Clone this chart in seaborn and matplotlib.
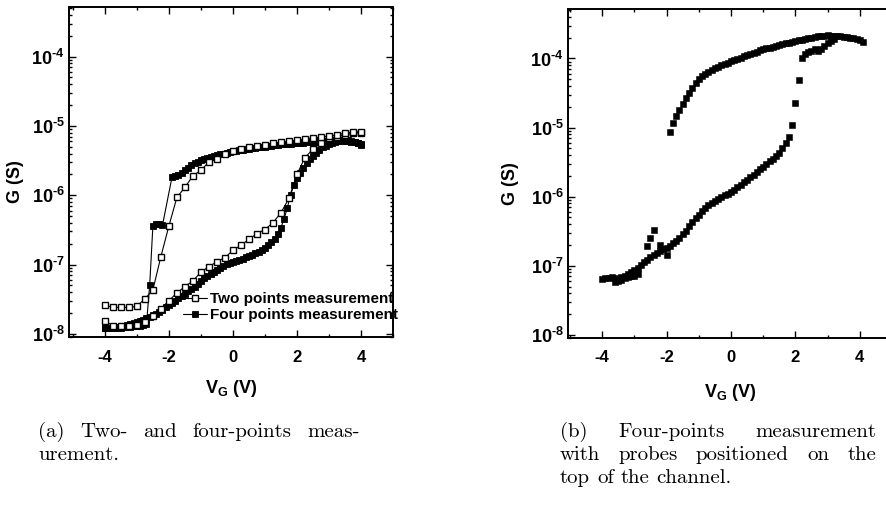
import numpy as np
import pandas as pd
import seaborn as sns
import matplotlib
matplotlib.use("Agg")
import matplotlib.pyplot as plt
from matplotlib.ticker import FixedLocator, LogLocator, NullFormatter

# ---------------- data ----------------
# (a) two-point measurement, sweep -4 -> 4 then 4 -> -4 (step 0.25 V)
v2_fwd = np.arange(-4.0, 4.001, 0.25)
g2_fwd = [1.55e-8, 1.3e-8, 1.3e-8, 1.3e-8, 1.35e-8, 1.5e-8, 1.8e-8, 2.3e-8, 3.0e-8, 3.9e-8,
          4.8e-8, 5.8e-8, 7.8e-8, 9.3e-8, 1.1e-7, 1.26e-7, 1.6e-7, 1.9e-7, 2.3e-7, 2.8e-7,
          3.2e-7, 4.0e-7, 5.6e-7, 9.0e-7, 2.0e-6, 3.5e-6, 4.6e-6, 5.7e-6, 6.6e-6, 7.0e-6,
          7.4e-6, 7.8e-6, 8.0e-6]
v2_bwd = np.arange(4.0, -4.001, -0.25)
g2_bwd = [8.3e-6, 8.1e-6, 7.9e-6, 7.4e-6, 7.1e-6, 6.9e-6, 6.7e-6, 6.5e-6, 6.2e-6, 6.0e-6,
          5.8e-6, 5.6e-6, 5.3e-6, 5.1e-6, 4.9e-6, 4.7e-6, 4.4e-6, 4.0e-6, 3.3e-6, 3.0e-6,
          2.3e-6, 1.9e-6, 1.3e-6, 9.3e-7, 3.6e-7, 1.3e-7, 4.3e-8, 3.2e-8, 2.5e-8, 2.4e-8,
          2.4e-8, 2.4e-8, 2.6e-8]

# (a) four-point measurement (step 0.1 V)
v4_fwd = np.arange(-4.0, 4.001, 0.1)
g4_fwd = [1.2e-8, 1.2e-8, 1.2e-8, 1.22e-8, 1.25e-8, 1.27e-8, 1.3e-8, 1.33e-8, 1.37e-8, 1.42e-8,
          1.47e-8, 1.53e-8, 1.6e-8, 1.67e-8, 1.75e-8, 1.85e-8, 1.95e-8, 2.07e-8, 2.2e-8, 2.4e-8,
          2.6e-8, 2.8e-8, 3.0e-8, 3.25e-8, 3.5e-8, 3.8e-8, 4.1e-8, 4.45e-8, 4.8e-8, 5.3e-8,
          5.8e-8, 6.3e-8, 6.8e-8, 7.3e-8, 7.8e-8, 8.4e-8, 9.0e-8, 9.6e-8, 1.02e-7, 1.06e-7,
          1.1e-7, 1.14e-7, 1.18e-7, 1.22e-7, 1.27e-7, 1.32e-7, 1.38e-7, 1.45e-7, 1.53e-7, 1.63e-7,
          1.75e-7, 1.9e-7, 2.1e-7, 2.35e-7, 2.75e-7, 3.4e-7, 4.6e-7, 6.6e-7, 1.0e-6, 1.4e-6,
          1.75e-6, 2.1e-6, 2.5e-6, 2.9e-6, 3.3e-6, 3.7e-6, 4.1e-6, 4.5e-6, 4.9e-6, 5.2e-6,
          5.5e-6, 5.7e-6, 5.9e-6, 6.0e-6, 6.1e-6, 6.1e-6, 6.0e-6, 5.9e-6, 5.8e-6, 5.6e-6,
          5.4e-6]
v4_bwd = np.concatenate([np.arange(4.0, -1.95, -0.1), np.arange(-2.2, -4.05, -0.1)])
g4_bwd = [5.3e-6, 5.6e-6, 5.9e-6, 6.1e-6, 6.2e-6, 6.3e-6, 6.3e-6, 6.3e-6, 6.25e-6, 6.2e-6,
          6.15e-6, 6.1e-6, 6.05e-6, 6.0e-6, 5.95e-6, 5.9e-6, 5.85e-6, 5.8e-6, 5.75e-6, 5.7e-6,
          5.65e-6, 5.6e-6, 5.55e-6, 5.5e-6, 5.45e-6, 5.4e-6, 5.3e-6, 5.25e-6, 5.2e-6, 5.1e-6,
          5.0e-6, 4.95e-6, 4.9e-6, 4.8e-6, 4.75e-6, 4.7e-6, 4.6e-6, 4.5e-6, 4.45e-6, 4.4e-6,
          4.3e-6, 4.2e-6, 4.1e-6, 4.0e-6, 3.9e-6, 3.8e-6, 3.7e-6, 3.6e-6, 3.5e-6, 3.35e-6,
          3.2e-6, 3.05e-6, 2.9e-6, 2.7e-6, 2.5e-6, 2.3e-6, 2.1e-6, 1.95e-6, 1.9e-6, 1.85e-6,
          3.7e-7, 3.9e-7, 3.9e-7, 3.6e-7, 5.0e-8, 1.4e-8, 1.35e-8, 1.3e-8, 1.3e-8, 1.28e-8,
          1.27e-8, 1.25e-8, 1.25e-8, 1.23e-8, 1.22e-8, 1.2e-8, 1.2e-8, 1.2e-8, 1.2e-8]

# (b) four-point measurement, probes on top of the channel (step 0.1 V)
vb_fwd = np.arange(-4.0, 3.25, 0.1)
gb_fwd = [6.5e-8, 6.6e-8, 6.7e-8, 6.8e-8, 6.6e-8, 6.3e-8, 6.8e-8, 7.2e-8, 7.6e-8, 8.0e-8,
          8.6e-8, 9.4e-8, 1.03e-7, 1.12e-7, 1.22e-7, 1.32e-7, 1.42e-7, 1.52e-7, 1.62e-7, 1.72e-7,
          1.82e-7, 1.95e-7, 2.1e-7, 2.3e-7, 2.55e-7, 2.85e-7, 3.2e-7, 3.7e-7, 4.3e-7, 4.9e-7,
          5.5e-7, 6.2e-7, 6.8e-7, 7.5e-7, 8.1e-7, 8.7e-7, 9.2e-7, 9.8e-7, 1.04e-6, 1.1e-6,
          1.18e-6, 1.26e-6, 1.36e-6, 1.48e-6, 1.62e-6, 1.77e-6, 1.92e-6, 2.08e-6, 2.27e-6, 2.48e-6,
          2.72e-6, 2.98e-6, 3.25e-6, 3.55e-6, 3.9e-6, 4.3e-6, 5.0e-6, 6.0e-6, 7.4e-6, 1.1e-5,
          2.3e-5, 4.8e-5, 1.0e-4, 1.15e-4, 1.25e-4, 1.3e-4, 1.35e-4, 1.3e-4, 1.35e-4, 1.5e-4,
          1.65e-4, 1.8e-4, 1.9e-4]
vb_bwd = np.arange(4.1, -1.95, -0.1)
gb_bwd = [1.75e-4, 1.85e-4, 1.92e-4, 1.97e-4, 2.0e-4, 2.02e-4, 2.05e-4, 2.08e-4, 2.1e-4, 2.12e-4,
          2.15e-4, 2.17e-4, 2.15e-4, 2.12e-4, 2.08e-4, 2.04e-4, 2.0e-4, 1.96e-4, 1.92e-4, 1.88e-4,
          1.84e-4, 1.8e-4, 1.75e-4, 1.7e-4, 1.65e-4, 1.6e-4, 1.56e-4, 1.52e-4, 1.48e-4, 1.44e-4,
          1.4e-4, 1.36e-4, 1.31e-4, 1.26e-4, 1.21e-4, 1.16e-4, 1.11e-4, 1.07e-4, 1.03e-4, 9.9e-5,
          9.5e-5, 9.1e-5, 8.7e-5, 8.4e-5, 8.0e-5, 7.6e-5, 7.2e-5, 6.8e-5, 6.4e-5, 6.0e-5,
          5.5e-5, 5.0e-5, 4.4e-5, 3.8e-5, 3.2e-5, 2.7e-5, 2.2e-5, 1.8e-5, 1.45e-5, 1.15e-5,
          8.7e-6]
vb_extra = [-3.6, -3.5, -3.4, -3.3, -3.2, -3.1, -3.0, -2.9, -2.6, -2.5, -2.4, -2.2, -2.0]
gb_extra = [5.8e-8, 6.0e-8, 6.2e-8, 6.6e-8, 6.9e-8, 7.0e-8, 7.1e-8, 7.6e-8, 1.9e-7, 2.5e-7,
            3.3e-7, 2.0e-7, 1.45e-7]

legend_labels = ["Two points measurement", "Four points measurement"]
xticks = [-4, -2, 0, 2, 4]
xtick_labels = ["-4", "-2", "0", "2", "4"]
xminor = [-5, -3, -1, 1, 3, 5]
yticks = [1e-8, 1e-7, 1e-6, 1e-5, 1e-4]
ytick_labels = [r"$10^{\text{-}8}$", r"$10^{\text{-}7}$", r"$10^{\text{-}6}$",
                r"$10^{\text{-}5}$", r"$10^{\text{-}4}$"]
xlabel = r"V$_{G}$ (V)"
ylabel = "G (S)"
caption_a = ["(a) Two- and four-points meas-", "urement."]
caption_b = ["(b) Four-points measurement", "with probes positioned on the",
             "top of the channel."]

# ---------------- style ----------------
sns.set_theme(style="ticks")
plt.rcParams.update({
    "font.family": ["Liberation Sans", "DejaVu Sans"],
    "font.weight": "bold",
    "mathtext.fontset": "custom",
    "mathtext.rm": "Liberation Sans:bold",
    "mathtext.bf": "Liberation Sans:bold",
    "mathtext.it": "Liberation Sans:bold",
    "mathtext.default": "bf",
    "axes.unicode_minus": False,
    "axes.edgecolor": "black",
    "axes.linewidth": 1.4,
    "xtick.color": "black",
    "ytick.color": "black",
    "text.color": "black",
    "axes.labelcolor": "black",
})

W, H = 886, 517
fig = plt.figure(figsize=(W / 100, H / 100), dpi=100)
fig.patch.set_facecolor("white")


def axes_px(l, t, r, b):
    return fig.add_axes([l / W, 1 - b / H, (r - l) / W, (b - t) / H])


ax1 = axes_px(69, 7, 393, 337)
ax2 = axes_px(568, 9, 892, 338)
for ax in (ax1, ax2):
    ax.set_yscale("log")
    ax.set_facecolor("white")

df4 = pd.DataFrame({"V": np.concatenate([v4_fwd, v4_bwd]),
                    "G": np.concatenate([g4_fwd, g4_bwd])})
df2 = pd.DataFrame({"V": np.concatenate([v2_fwd, v2_bwd]),
                    "G": np.concatenate([g2_fwd, g2_bwd])})
sns.lineplot(data=df4, x="V", y="G", sort=False, estimator=None, ax=ax1,
             color="black", lw=0.8, marker="s", markersize=4.0,
             markerfacecolor="black", markeredgecolor="black", markeredgewidth=0.6,
             label=legend_labels[1], zorder=2)
sns.lineplot(data=df2, x="V", y="G", sort=False, estimator=None, ax=ax1,
             color="black", lw=0.8, marker="s", markersize=4.3,
             markerfacecolor="white", markeredgecolor="black", markeredgewidth=1.0,
             label=legend_labels[0], zorder=3)

dfb = pd.DataFrame({"V": np.concatenate([vb_fwd, vb_bwd, vb_extra]),
                    "G": np.concatenate([gb_fwd, gb_bwd, gb_extra])})
sns.scatterplot(data=dfb, x="V", y="G", ax=ax2, marker="s", s=16, color="black",
                edgecolor="black", linewidth=0.4, legend=False)


def style(ax, xlim, ylab_x, xlab_y, right=True):
    ax.set_xlim(*xlim)
    ax.set_ylim(9e-9, 5.2e-4)
    ax.set_xticks(xticks)
    ax.set_xticklabels(xtick_labels, fontsize=12, fontweight="bold")
    ax.xaxis.set_minor_locator(FixedLocator(xminor))
    ax.set_yticks(yticks)
    ax.set_yticklabels(ytick_labels, fontsize=13)
    ax.yaxis.set_minor_locator(LogLocator(base=10, subs=np.arange(2, 10)))
    ax.yaxis.set_minor_formatter(NullFormatter())
    ax.tick_params(which="both", direction="in", top=True, right=right, width=1.0)
    ax.tick_params(which="major", length=5)
    ax.tick_params(which="minor", length=2.5)
    ax.tick_params(axis="x", which="major", pad=9)
    ax.tick_params(axis="y", which="major", pad=3)
    ax.set_xlabel(xlabel, fontsize=13, fontweight="bold")
    ax.set_ylabel(ylabel, fontsize=13, fontweight="bold")
    ax.yaxis.set_label_coords(ylab_x, 0.47)
    ax.xaxis.set_label_coords(0.5, xlab_y)
    for s in ax.spines.values():
        s.set_linewidth(1.4)
        s.set_color("black")


style(ax1, (-5.12, 5.0), -0.14, -0.124)
style(ax2, (-5.06, 5.0), -0.15, -0.134, right=False)

h, l = ax1.get_legend_handles_labels()
order = [l.index(legend_labels[0]), l.index(legend_labels[1])]
leg = ax1.legend([h[i] for i in order], [l[i] for i in order],
                 loc="center left", bbox_to_anchor=((183 - 69) / 324, (337 - 307) / 330),
                 frameon=False, handlelength=1.6, handletextpad=0.2, labelspacing=0.15,
                 borderpad=0, borderaxespad=0,
                 prop={"family": ["Liberation Sans"], "weight": "bold", "size": 11.0})

# ---------------- captions (justified like the LaTeX source) ----------------
renderer = fig.canvas.get_renderer()
cap_font = dict(fontsize=15, family="cmr10", fontweight="normal", color="black")


def caption(lines, x0, x1, base_y, step):
    probe = fig.text(0, 0, "a a", **cap_font)
    probe1 = fig.text(0, 0, "aa", **cap_font)
    sp = probe.get_window_extent(renderer).width - probe1.get_window_extent(renderer).width
    probe.remove()
    probe1.remove()
    for i, line in enumerate(lines):
        y = 1 - (base_y + i * step) / H
        words = line.split(" ")
        texts = [fig.text(0, y, w, va="baseline", ha="left", **cap_font) for w in words]
        widths = [t.get_window_extent(renderer).width for t in texts]
        last = i == len(lines) - 1
        if last or len(words) == 1:
            gap = sp
        else:
            gap = (x1 - x0 - sum(widths)) / (len(words) - 1)
        x = x0
        for t, w in zip(texts, widths):
            t.set_x(x / W)
            x += w + gap


caption(caption_a, 38, 360, 437, 23)
caption(caption_b, 560, 876, 437, 23)

fig.savefig("out.png", dpi=100, facecolor="white")
